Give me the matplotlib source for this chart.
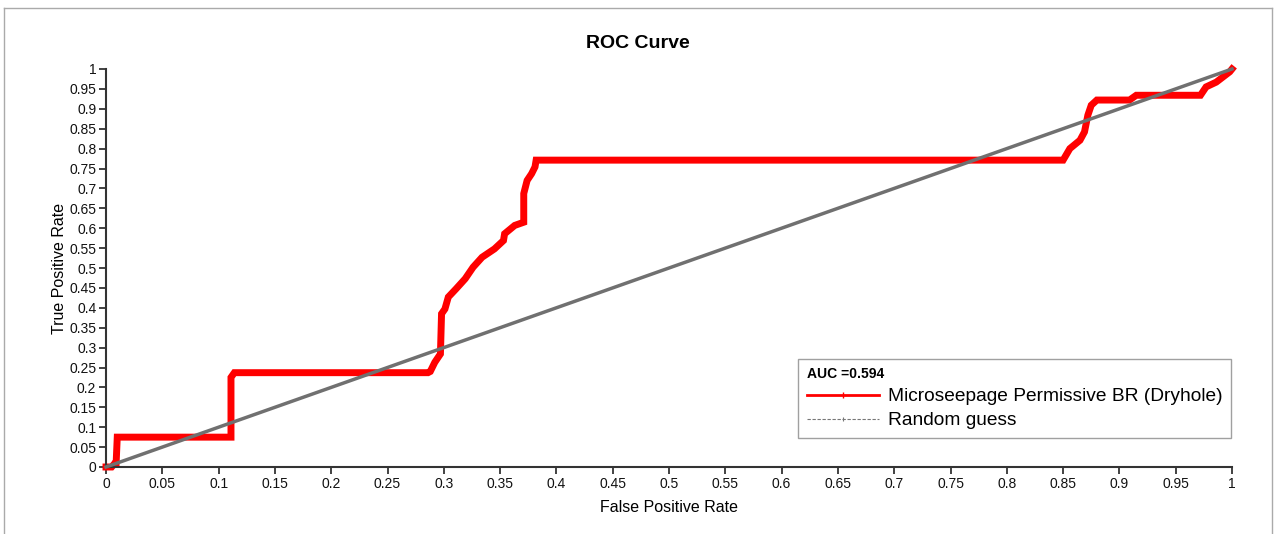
import matplotlib
matplotlib.use("Agg")
import matplotlib.pyplot as plt
from matplotlib.lines import Line2D

plt.rcParams['font.family'] = ['Liberation Sans', 'DejaVu Sans']

# ROC curve vertices
fpr = [0, 0.005, 0.008, 0.009, 0.010, 0.111, 0.111, 0.114, 0.286, 0.288, 0.292,
       0.297, 0.298, 0.301, 0.304, 0.311, 0.319, 0.326, 0.334, 0.345, 0.353,
       0.354, 0.363, 0.371, 0.371, 0.374, 0.378, 0.381, 0.382, 0.850, 0.856,
       0.865, 0.869, 0.872, 0.875, 0.880, 0.909, 0.915, 0.972, 0.977, 0.986,
       0.998, 1.0]
tpr = [0, 0, 0.010, 0.010, 0.075, 0.075, 0.225, 0.237, 0.237, 0.240, 0.263,
       0.284, 0.385, 0.397, 0.427, 0.448, 0.473, 0.502, 0.527, 0.548, 0.569,
       0.586, 0.607, 0.615, 0.687, 0.720, 0.737, 0.754, 0.771, 0.771, 0.800,
       0.821, 0.842, 0.884, 0.909, 0.922, 0.922, 0.934, 0.934, 0.955, 0.967,
       0.993, 1.0]
rand_x = [0, 1]
rand_y = [0, 1]
auc = 0.594
ticks = [i * 0.05 for i in range(21)]
tick_labels = ['0', '0.05', '0.1', '0.15', '0.2', '0.25', '0.3', '0.35', '0.4',
               '0.45', '0.5', '0.55', '0.6', '0.65', '0.7', '0.75', '0.8', '0.85',
               '0.9', '0.95', '1']

fig = plt.figure(figsize=(12.8, 5.34), dpi=100)
ax = fig.add_axes([106 / 1280, 67 / 534, 1126 / 1280, 398 / 534])

ax.plot(rand_x, rand_y, color='#707070', lw=2.5, clip_on=False, zorder=3)
ax.plot(fpr, tpr, color='#ff0000', lw=5, solid_joinstyle='miter',
        clip_on=False, zorder=2)

ax.set_xlim(0, 1)
ax.set_ylim(0, 1)
ax.set_xticks(ticks)
ax.set_xticklabels(tick_labels)
ax.set_yticks(ticks)
ax.set_yticklabels(tick_labels)
ax.tick_params(direction='out', length=5, width=1.2, color='#222222',
               labelsize=10, pad=2, labelcolor='#111111')
for s in ['top', 'right']:
    ax.spines[s].set_visible(False)
for s in ['left', 'bottom']:
    ax.spines[s].set_color('#333333')
    ax.spines[s].set_linewidth(1.5)

ax.set_xlabel('False Positive Rate', fontsize=11.5, labelpad=7)
ax.set_ylabel('True Positive Rate', fontsize=11.5, labelpad=1.5)
fig.text(638 / 1280, 1 - 43 / 534, 'ROC Curve', ha='center', va='center',
         fontsize=14, fontweight='bold')

# legend
h1 = Line2D([], [], color='#ff0000', lw=2, marker='|', markersize=5,
            markeredgewidth=1)
h2 = Line2D([], [], color='#777777', lw=0.8, ls=(0, (3, 1.5)), marker='|',
            markersize=3, markeredgewidth=0.8)
leg = fig.legend([h1, h2], ['Microseepage Permissive BR (Dryhole)', 'Random guess'],
                 title='AUC =%.3f' % auc, loc='lower right',
                 bbox_to_anchor=(1231 / 1280, 96 / 534), fontsize=13.8,
                 title_fontproperties={'weight': 'bold', 'size': 10},
                 alignment='left', frameon=True, fancybox=False,
                 handlelength=3.75, handletextpad=0.46, borderpad=0.45,
                 labelspacing=0.35, numpoints=1, borderaxespad=0)
leg.get_frame().set_edgecolor('#888888')
leg.get_frame().set_linewidth(1)

# outer gray border
fig.add_artist(Line2D([4 / 1280, 4 / 1280], [0, 1 - 8 / 534], color='#aaaaaa', lw=1))
fig.add_artist(Line2D([4 / 1280, 1272 / 1280], [1 - 8 / 534, 1 - 8 / 534], color='#aaaaaa', lw=1))
fig.add_artist(Line2D([1272 / 1280, 1272 / 1280], [0, 1 - 8 / 534], color='#aaaaaa', lw=1))

fig.savefig('out.png', dpi=100)
